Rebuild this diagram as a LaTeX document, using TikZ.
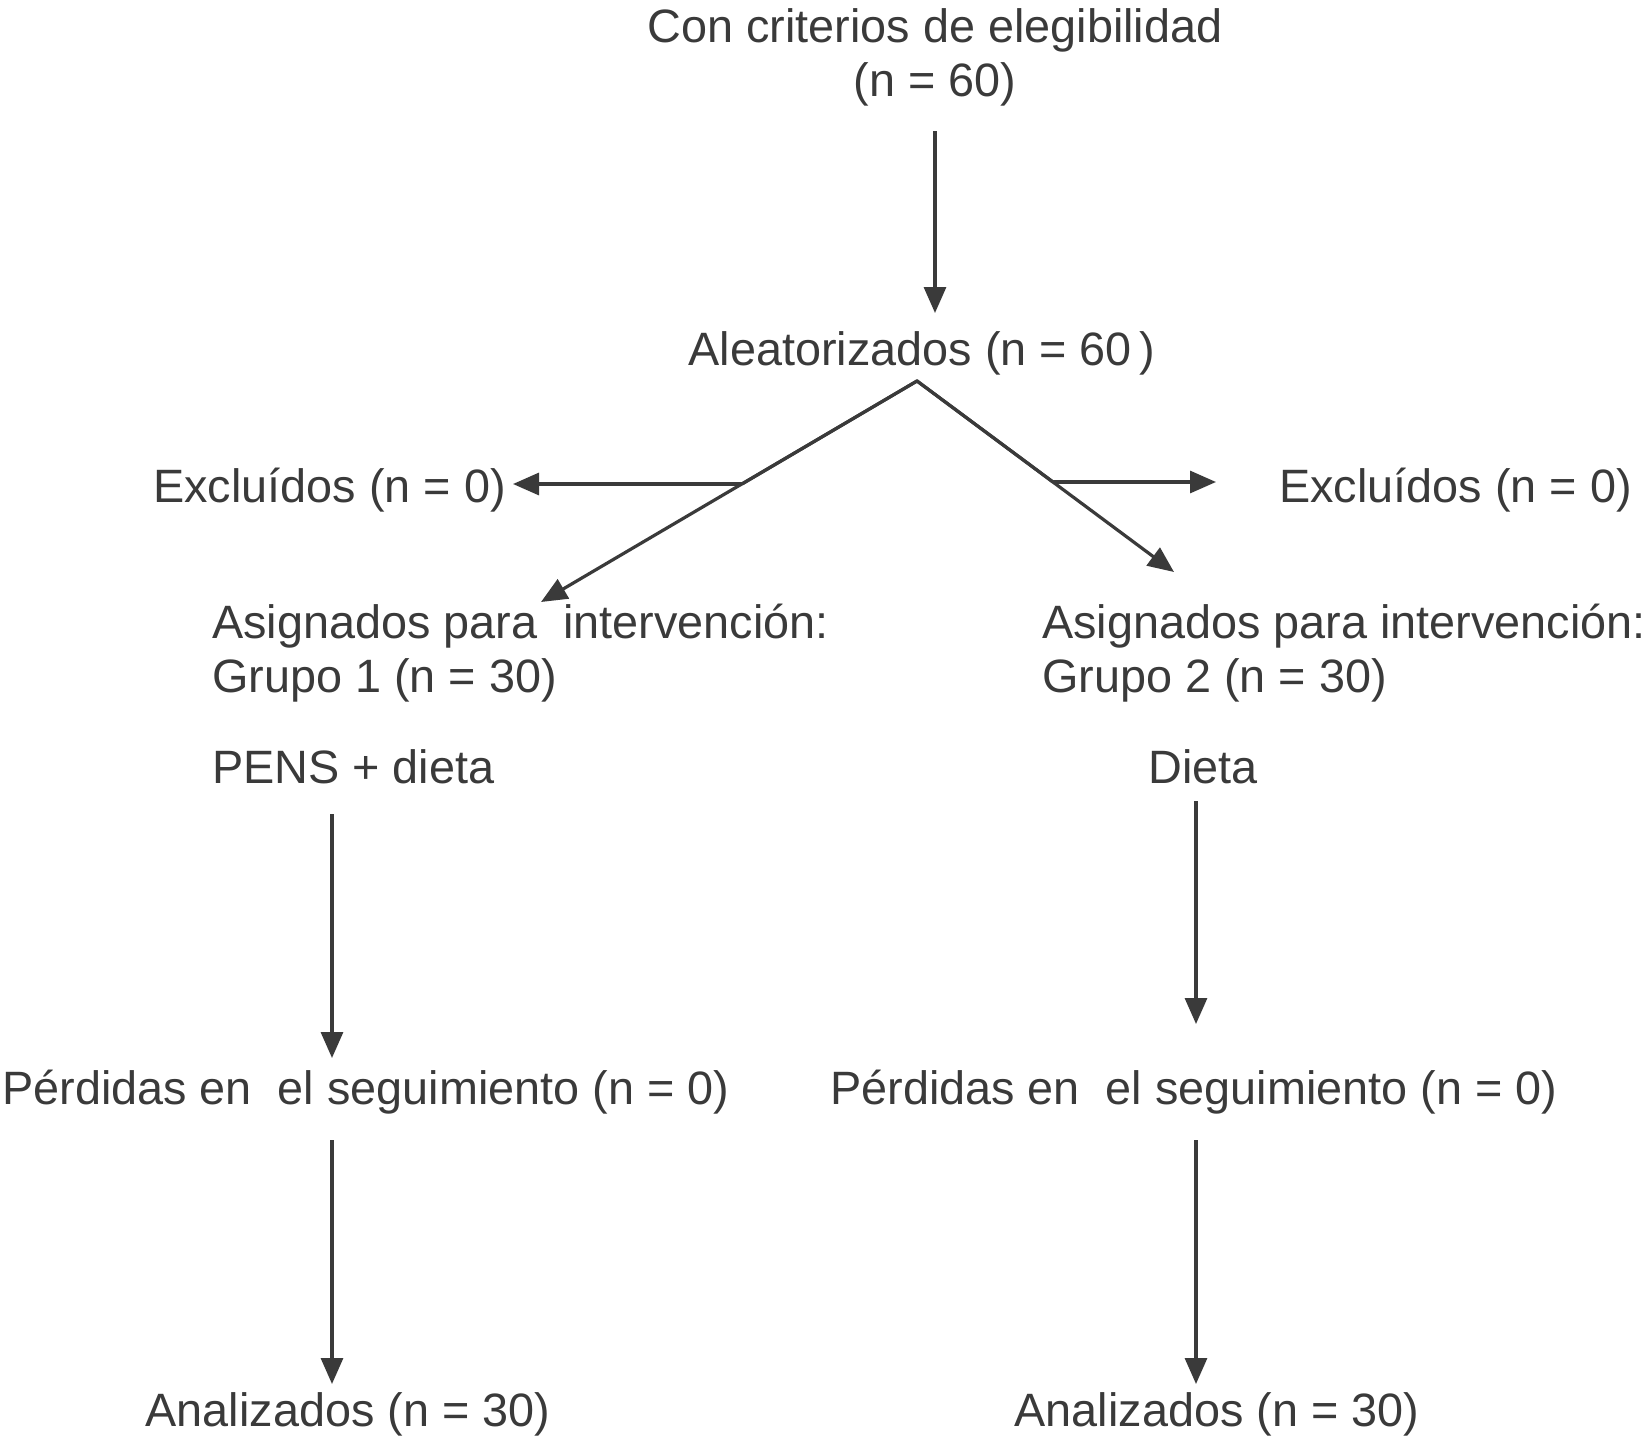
\documentclass[tikz,border=0pt]{standalone}
\usepackage{fontspec}
\setmainfont{Liberation Sans}
\usetikzlibrary{arrows.meta}
\definecolor{ink}{HTML}{3A3A3A}
\tikzset{
  lbl/.style={inner sep=0pt, text=ink, font=\fontsize{46.8}{54}\selectfont},
  conn/.style={draw=ink, line width=3.2pt, -{Triangle[length=26pt,width=22pt]}},
  plain/.style={draw=ink, line width=3.2pt}
}
\begin{document}
\begin{tikzpicture}[x=1pt,y=-1pt]
\useasboundingbox (0,0) rectangle (1647,1438);
% texts
\node[lbl, align=center] (top) at (935,57) {Con criterios de elegibilidad\\(n = 60)};
\node[lbl] (ale) at (922,353) {Aleatorizados (n = 60\,)};
\node[lbl, anchor=west] (excL) at (153,490) {Excluídos (n = 0)};
\node[lbl, anchor=west] (excR) at (1279,490) {Excluídos (n = 0)};
\node[lbl, anchor=west, align=left] (asgL) at (212,653) {Asignados para\ \ intervención:\\Grupo 1 (n = 30)};
\node[lbl, anchor=west, align=left] (asgR) at (1042,653) {Asignados para intervención:\\Grupo 2 (n = 30)};
\node[lbl, anchor=west] (pens) at (212,767) {PENS + dieta};
\node[lbl, anchor=west] (dieta) at (1148,767) {Dieta};
\node[lbl, anchor=west] (perL) at (2,1092) {Pérdidas en\ \ el seguimiento (n = 0)};
\node[lbl, anchor=west] (perR) at (830,1092) {Pérdidas en\ \ el seguimiento (n = 0)};
\node[lbl] (anaL) at (348,1414) {Analizados (n = 30)};
\node[lbl] (anaR) at (1217,1414) {Analizados (n = 30)};
% coordinates
\coordinate (a1s) at (935,131);
\coordinate (a1e) at (935,313);
\coordinate (apex) at (917,381);
\coordinate (tipL) at (541,602);
\coordinate (tipR) at (1174,572);
\coordinate (brL) at (742,484);
\coordinate (exLe) at (513,484);
\coordinate (brR) at (1053,482);
\coordinate (exRe) at (1216,482);
\coordinate (vL1s) at (332,814);
\coordinate (vL1e) at (332,1058);
\coordinate (vR1s) at (1196,801);
\coordinate (vR1e) at (1196,1024);
\coordinate (vL2s) at (332,1140);
\coordinate (vL2e) at (332,1384);
\coordinate (vR2s) at (1196,1140);
\coordinate (vR2e) at (1196,1384);
% connectors
\draw[conn] (a1s) -- (a1e);
\draw[conn] (apex) -- (tipL);
\draw[conn] (apex) -- (tipR);
\draw[plain, line join=miter] (brL) -- (apex) -- (brR);
\draw[conn] (brL) -- (exLe);
\draw[conn] (brR) -- (exRe);
\draw[conn] (vL1s) -- (vL1e);
\draw[conn] (vR1s) -- (vR1e);
\draw[conn] (vL2s) -- (vL2e);
\draw[conn] (vR2s) -- (vR2e);
\end{tikzpicture}
\end{document}
